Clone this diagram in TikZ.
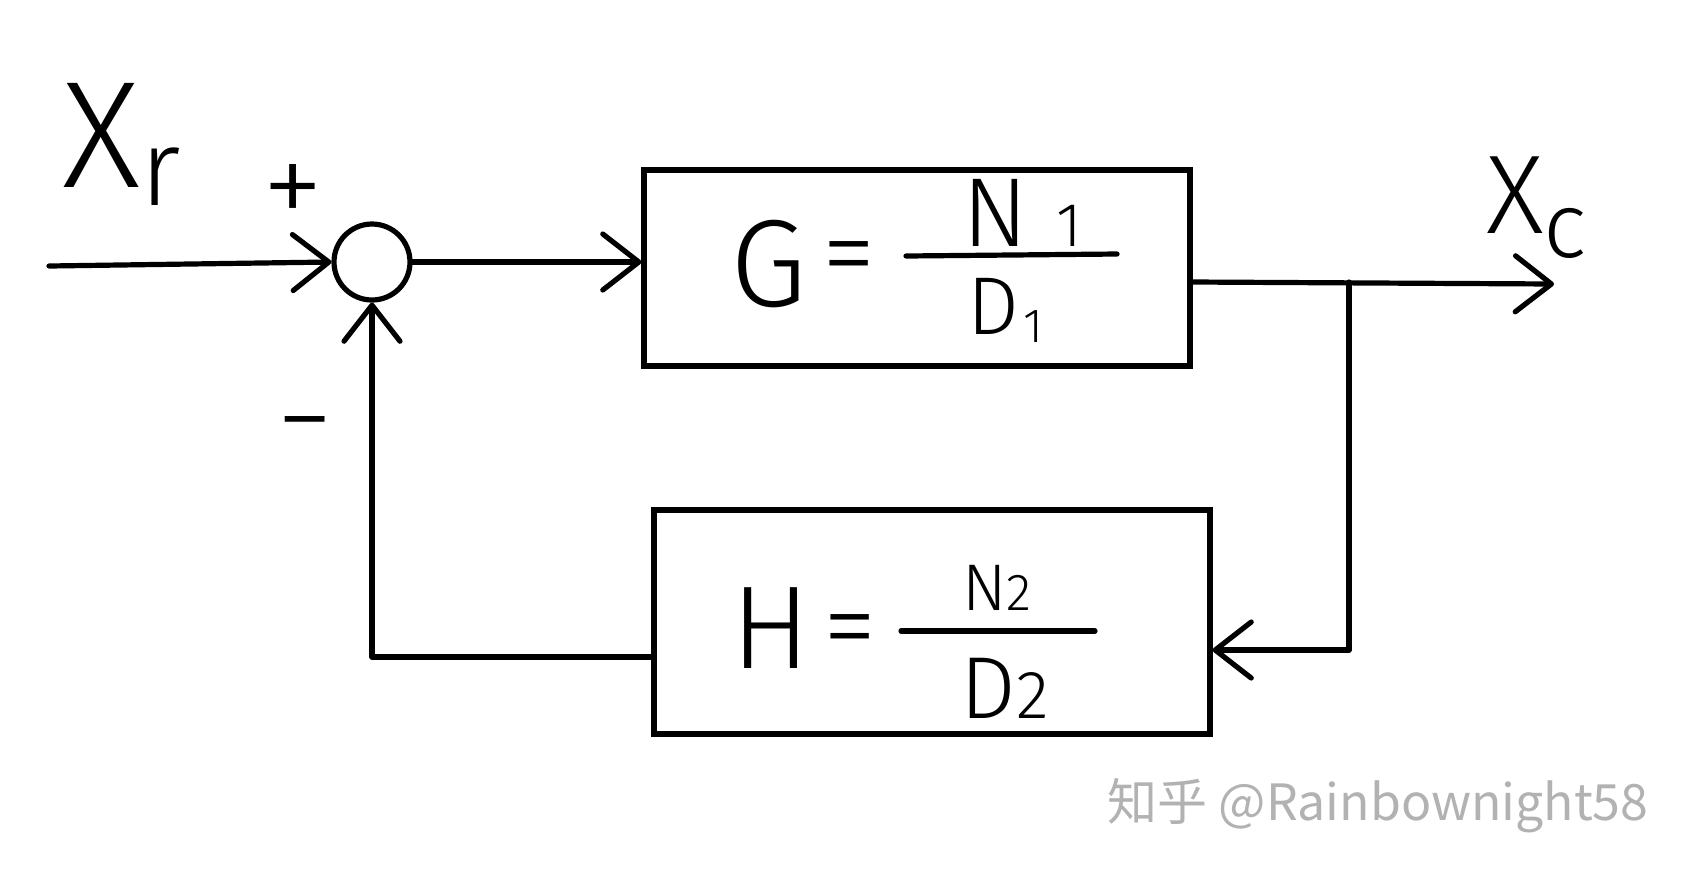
\documentclass[tikz,border=0pt]{standalone}
\usepackage{fontspec}
\setmainfont{Fira Sans}[UprightFont=* Light]
\newfontfamily\cjk{Noto Sans CJK SC}
\usetikzlibrary{arrows.meta}

\newcommand{\sz}[1]{\fontsize{#1}{#1}\selectfont}

\begin{document}
\begin{tikzpicture}[x=0.5pt,y=-0.5pt,
		wire/.style={line width=2.6pt, line cap=round, line join=round},
		tip/.style={-{Straight Barb[length=18pt,width=28pt,round]}},
		block/.style={draw, line width=2.6pt, rectangle, inner sep=0pt},
		sumnode/.style={draw, circle, line width=2.6pt, minimum size=38pt, inner sep=0pt},
		txt/.style={inner sep=0pt}]
		\useasboundingbox (0,0) rectangle (1692,880);

		% blocks and summing point
		\node[block, minimum width=273pt, minimum height=98pt] (G) at (917,268) {};
		\node[block, minimum width=278pt, minimum height=112pt] (H) at (932,622) {};
		\node[sumnode] (sum) at (372,262) {};

		% signals
		\node[txt, anchor=base west] (xr) at (62,187) {\sz{76}X\raisebox{-9pt}{\sz{54}r}};
		\node[txt, anchor=base west] (xc) at (1486,233) {\sz{56}X\raisebox{-12pt}{\sz{46}c}};
		\node[txt] (plus) at (293,196) {\sz{62}+};
		\node[txt] (minus) at (305,436) {\sz{56}−};

		% G = N1/D1
		\node[txt] (gG) at (769,264) {\sz{62}G};
		\node[txt] (geq) at (849,266) {\sz{54}=};
		\node[txt, anchor=base west] (n1) at (962,246) {\sz{49}N\hspace{14pt}\sz{31}1};
		\node[txt, anchor=base west] (d1) at (967,334) {\sz{41}D\hspace{2pt}\raisebox{-4pt}{\sz{24}1}};
		\draw[wire] (906,256) -- (1117,254);

		% H = N2/D2
		\node[txt] (hH) at (771,628) {\sz{59}H};
		\node[txt] (heq) at (850,639) {\sz{54}=};
		\node[txt, anchor=base west] (n2) at (962,610) {\sz{33}N\sz{26}2};
		\node[txt, anchor=base west] (d2) at (960,718) {\sz{44}D\sz{34}2};
		\draw[wire] (901,631) -- (1095,631);

		% connectors
		\coordinate (in) at (49,266);
		\coordinate (split) at (1349,282);
		\coordinate (out) at (1554,284);
		\coordinate (fbr) at (1349,650);
		\coordinate (fbl) at (372,657);
		\draw[wire,tip] (in) -- (sum.west);
		\draw[wire,tip] (sum.east) -- (sum.east -| G.west);
		\draw[wire,tip] (G.east |- split) -- (out);
		\draw[wire,tip] (split) -- (fbr) -- (fbr -| H.east);
		\draw[wire,tip] (H.west |- fbl) -- (fbl) -- (sum.south);

		% watermark
		\node[txt, text=black!30] (wm) at (1378,806) {\cjk\sz{25}知乎 @Rainbownight58};
	\end{tikzpicture}
\end{document}
